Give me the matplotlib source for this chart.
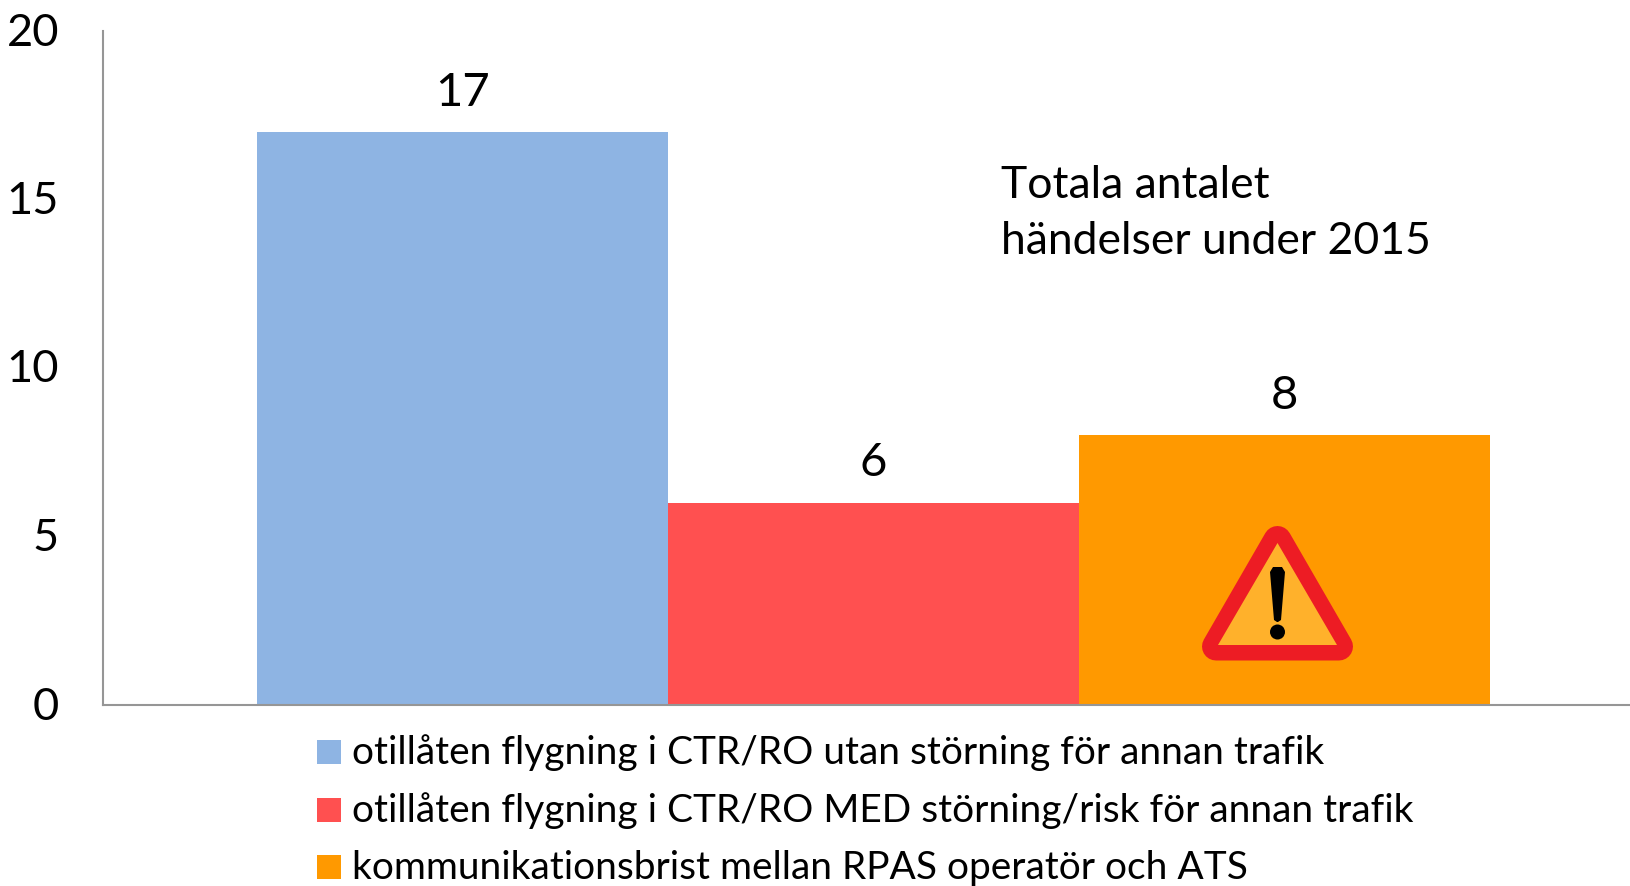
import matplotlib
matplotlib.use("Agg")
import matplotlib.pyplot as plt
from matplotlib.patches import Polygon, Circle
from matplotlib.transforms import Affine2D, ScaledTranslation

plt.rcParams['font.family'] = ['Lato', 'DejaVu Sans']

series_labels = ["otillåten flygning i CTR/RO utan störning för annan trafik",
                 "otillåten flygning i CTR/RO MED störning/risk för annan trafik",
                 "kommunikationsbrist mellan RPAS operatör och ATS"]
values = [17, 6, 8]
colors = ["#8EB4E3", "#FF5050", "#FF9900"]
yticks = [0, 5, 10, 15, 20]
note_lines = ["Totala antalet", "händelser under 2015"]

W, H = 1630, 886
fig = plt.figure(figsize=(W/100, H/100), dpi=100, facecolor="white")
L, R, T, B = 103.5, 1630, 31, 705
ax = fig.add_axes([L/W, 1-B/H, (R-L)/W, (B-T)/H])

bw = 411/(R-L)
x0 = (873.5-L)/(R-L)
for i, (v, c, lab) in enumerate(zip(values, colors, series_labels)):
    x = x0 + (i-1)*bw
    ax.bar(x, v, width=bw, color=c, linewidth=0, label=lab, zorder=2)
    ax.text(x, v+0.55, str(v), ha="center", va="bottom", fontsize=34, color="black")

ax.set_xlim(0, 1)
ax.set_ylim(0, 20)
ax.set_xticks([])
ax.set_yticks(yticks)
ax.tick_params(axis="y", length=0, pad=32, labelsize=32.5, labelcolor="black")
up = ScaledTranslation(0, 2/100, fig.dpi_scale_trans)
for t in ax.get_yticklabels():
    t.set_transform(t.get_transform() + up)
for s in ("top", "right"):
    ax.spines[s].set_visible(False)
for s in ("left", "bottom"):
    ax.spines[s].set_color("#969696")
    ax.spines[s].set_linewidth(1.5)
    ax.spines[s].set_zorder(3)

for line, cy in zip(note_lines, [181, 238]):
    fig.text(1001/W, 1-cy/H, line, fontsize=32, color="black", ha="left", va="center_baseline")

# legend, placed in figure pixels
for lab, c, cy, tcy in zip(series_labels, colors, [752, 810, 867], [749, 807, 865]):
    fig.patches.append(plt.Rectangle((317/W, 1-(cy+12)/H), 24/W, 24/H, transform=fig.transFigure,
                                     facecolor=c, edgecolor="none"))
    fig.text(352/W, 1-tcy/H, lab, fontsize=28, color="black", ha="left", va="center_baseline")

# warning icon, in image pixels
px = Affine2D().scale(1, -1).translate(0, H)
fig.patches.append(Polygon([(1277.5, 540), (1339, 646.5), (1216, 646.5)], closed=True, transform=px,
                           facecolor="#ED1C24", edgecolor="#ED1C24", linewidth=28*0.72, joinstyle="round"))
fig.patches.append(Polygon([(1277.5, 543), (1337, 645), (1218, 645)], closed=True, transform=px,
                           facecolor="#FFB12B", edgecolor="none"))
fig.patches.append(Polygon([(1270, 572), (1273, 567), (1282, 567), (1285, 572), (1281, 620), (1278, 622),
                            (1277, 622), (1274, 620)], closed=True, transform=px, facecolor="black", edgecolor="none"))
fig.patches.append(Circle((1277.5, 632), 7.5, transform=px, facecolor="black", edgecolor="none"))

fig.savefig("out.png", dpi=100, facecolor="white")
